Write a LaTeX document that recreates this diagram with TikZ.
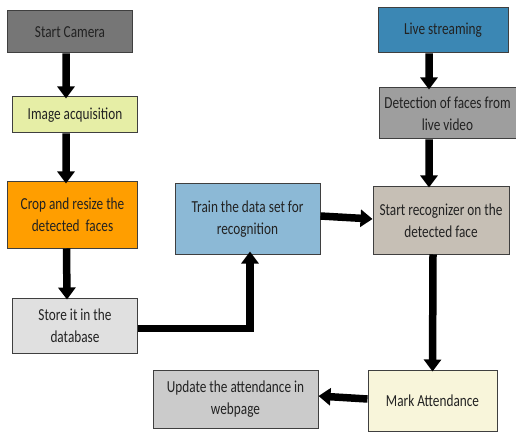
\documentclass[tikz,border=0pt]{standalone}
\usepackage{fontspec}
\setmainfont{Carlito}[FakeStretch=0.79]
\usetikzlibrary{arrows.meta,positioning}
\definecolor{cCam}{HTML}{767676}
\definecolor{cImg}{HTML}{E6EEA6}
\definecolor{cCrop}{HTML}{FF9E00}
\definecolor{cStore}{HTML}{E0E0E0}
\definecolor{cTrain}{HTML}{8CB9D6}
\definecolor{cUpd}{HTML}{CBCBCB}
\definecolor{cLive}{HTML}{3B87B4}
\definecolor{cDet}{HTML}{9E9E9E}
\definecolor{cRec}{HTML}{C6BFB5}
\definecolor{cMark}{HTML}{F8F5DA}
\definecolor{cEdge}{HTML}{3F3F3F}
\definecolor{cTxt}{HTML}{222222}
\begin{document}
\begin{tikzpicture}[x=1bp,y=-1bp,
  box/.style={draw=cEdge,line width=1bp,align=center,inner sep=2bp,
    font=\fontsize{16.8bp}{22bp}\selectfont,text=cTxt},
  arr/.style={line width=7.5bp,-{Triangle[width=17bp,length=12bp]}}]
\useasboundingbox (0,0) rectangle (516,433);
\node[box,fill=cCam,minimum width=124bp,minimum height=42bp] (cam) at (70,32) {Start Camera};
\node[box,fill=cImg,minimum width=124bp,minimum height=36bp] (img) at (75,115) {Image acquisition};
\node[box,fill=cCrop,minimum width=129bp,minimum height=66bp] (crop) at (72.5,215) {Crop and resize the\\detected\ \ faces};
\node[box,fill=cStore,minimum width=124bp,minimum height=55bp] (store) at (75,325.5) {Store it in the\\database};
\node[box,fill=cTrain,minimum width=145bp,minimum height=70bp] (train) at (247.5,219) {Train the data set for\\recognition};
\node[box,fill=cUpd,minimum width=165bp,minimum height=58bp] (upd) at (235.5,399) {Update the attendance in\\webpage};
\node[box,fill=cLive,minimum width=130bp,minimum height=45bp] (live) at (443,30.5) {Live streaming};
\node[box,fill=cDet,minimum width=137bp,minimum height=51bp] (det) at (447.5,113.5) {Detection of faces from\\live video};
\node[box,fill=cRec,minimum width=136bp,minimum height=67bp] (rec) at (441,220.5) {Start recognizer on the\\detected face};
\node[box,fill=cMark,minimum width=129bp,minimum height=61bp] (mark) at (432.5,400.5) {Mark Attendance};
\draw[arr] ([xshift=-4bp]cam.south) -- ([xshift=-9bp,yshift=-2bp]img.north);
\draw[arr] ([xshift=-9bp]img.south) -- ([xshift=-6.5bp,yshift=-2bp]crop.north);
\draw[arr] ([xshift=-6bp]crop.south) -- ([xshift=-8bp,yshift=-2bp]store.north);
\draw[arr] ([yshift=-3bp]store.east) -| ([xshift=2.5bp,yshift=3bp]train.south);
\draw[arr] ([yshift=3bp]train.east) -- ([yshift=1.5bp]rec.west);
\draw[arr] ([xshift=-14bp]live.south) -- ([xshift=-18.5bp,yshift=-2bp]det.north);
\draw[arr] ([xshift=-18.5bp]det.south) -- ([xshift=-12bp,yshift=-1bp]rec.north);
\draw[arr] ([xshift=-8bp]rec.south) -- ([yshift=-2bp]mark.north);
\draw[arr] ([yshift=1.5bp]mark.west) -- ([yshift=3bp]upd.east);
\end{tikzpicture}
\end{document}
